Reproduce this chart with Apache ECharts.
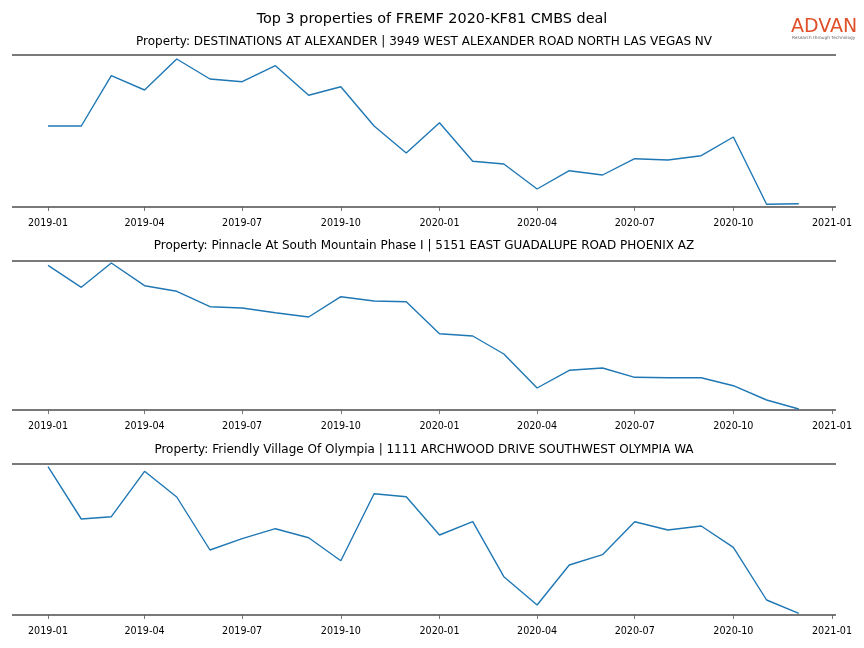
<!DOCTYPE html>
<html>
<head>
<meta charset="utf-8">
<script src="https://cdn.jsdelivr.net/npm/echarts@6/dist/echarts.min.js"></script>
<style>html,body{margin:0;padding:0;background:#fff}#c{width:864px;height:648px}</style>
</head>
<body>
<div id="c"></div>
<script>
// ---- data ----
const months = ['2019-01','2019-02','2019-03','2019-04','2019-05','2019-06','2019-07','2019-08','2019-09','2019-10','2019-11','2019-12',
                '2020-01','2020-02','2020-03','2020-04','2020-05','2020-06','2020-07','2020-08','2020-09','2020-10','2020-11','2020-12'];
const tickLabels = ['2019-01','2019-04','2019-07','2019-10','2020-01','2020-04','2020-07','2020-10','2021-01'];
const mainTitle = 'Top 3 properties of FREMF 2020-KF81 CMBS deal';
const panelTitles = [
  'Property: DESTINATIONS AT ALEXANDER | 3949 WEST ALEXANDER ROAD NORTH LAS VEGAS NV',
  'Property: Pinnacle At South Mountain Phase I | 5151 EAST GUADALUPE ROAD PHOENIX AZ',
  'Property: Friendly Village Of Olympia | 1111 ARCHWOOD DRIVE SOUTHWEST OLYMPIA WA'
];
const destinations = [81,81,131.3,117,148,128,125.3,141.3,111.7,120.3,81,54,84.3,45.7,43,18,36.3,32,48.3,47,51.3,70,2.7,3.3];
const pinnacle = [144.7,122.7,147,124.3,118.7,103.3,102,97.3,93,113.3,109,108.3,76.3,74,56,22,39.7,42,32.7,32.3,32.3,24.3,10,1];
const friendly = [148.3,96,98.3,143.7,118,65,76.3,86.3,77.3,54.3,121.3,118.3,80,93.3,38.3,10,50,60.3,93.3,85,89,67.7,15,1.7];
const seriesList = [destinations, pinnacle, friendly];
const yMax = [152, 149, 151];

// ---- layout ----
const grids = [
  {left: 12, right: 28, top: 55, height: 152},
  {left: 12, right: 28, top: 261, height: 149},
  {left: 12, right: 28, top: 464, height: 151}
];
const subTitleCenters = [42, 246, 450];
const axesCenterX = 12 + (864 - 12 - 28) / 2;

const DAY = 86400000;
function ts(s){ const [y,m] = s.split('-').map(Number); return Date.UTC(y, m-1, 1); }
const T0 = ts(months[0]);
function dayOf(s){ return Math.round((ts(s) - T0) / DAY); }
const xMin = -33.6;
const xMax = dayOf('2021-01') + 3.7;
const tickVals = tickLabels.map(dayOf);
function fmt(v){
  const i = tickVals.indexOf(Math.round(v));
  return i >= 0 ? tickLabels[i] : '';
}

const FONT = 'DejaVu Sans';
const chart = echarts.init(document.getElementById('c'), null, {renderer: 'canvas'});

const option = {
  backgroundColor: '#ffffff',
  animation: false,
  title: {text: mainTitle, left: 'center', top: 11.8, padding: 0,
     textStyle: {fontFamily: FONT, fontSize: 14.4, fontWeight: 'normal', color: '#000', lineHeight: 14.4}},
  grid: grids,
  xAxis: grids.map((g, i) => ({
    type: 'value', gridIndex: i, min: xMin, max: xMax, offset: 5,
    axisLine: {show: false},
    splitLine: {show: false},
    axisTick: {show: true, length: 4, customValues: tickVals, lineStyle: {color: '#555', width: 0.8}},
    axisLabel: {show: true, customValues: tickVals, formatter: fmt, margin: 6,
                fontFamily: FONT, fontSize: 9.6, color: '#000', hideOverlap: false, showMinLabel: true, showMaxLabel: true}
  })),
  yAxis: grids.map((g, i) => ({
    type: 'value', gridIndex: i, min: 0, max: yMax[i], interval: yMax[i],
    axisLine: {show: false}, axisTick: {show: false}, axisLabel: {show: false},
    splitLine: {show: true, lineStyle: {color: '#4d4d4d', width: 1.6}}
  })),
  series: seriesList.map((vals, i) => ({
    type: 'line', xAxisIndex: i, yAxisIndex: i,
    data: months.map((m, j) => [dayOf(m), vals[j]]),
    showSymbol: false, symbol: 'none',
    lineStyle: {color: '#1f77b4', width: 1.4},
    itemStyle: {color: '#1f77b4'}
  })),
  graphic: panelTitles.map((t, i) => ({
      type: 'text', x: axesCenterX, y: subTitleCenters[i],
      style: {text: t, fontFamily: FONT, fontSize: 12, fill: '#000', align: 'center', verticalAlign: 'middle'}
    })).concat([
    {type: 'text', left: 791, top: 17.5,
     style: {text: 'ADVAN', fontFamily: FONT, fontSize: 19, fill: '#e0502a', fontWeight: 'normal'}},
    {type: 'text', left: 792, top: 36,
     style: {text: 'Research through Technology', fontFamily: FONT, fontSize: 4.3, fill: '#666'}}
  ])
};
chart.setOption(option);
</script>
</body>
</html>
